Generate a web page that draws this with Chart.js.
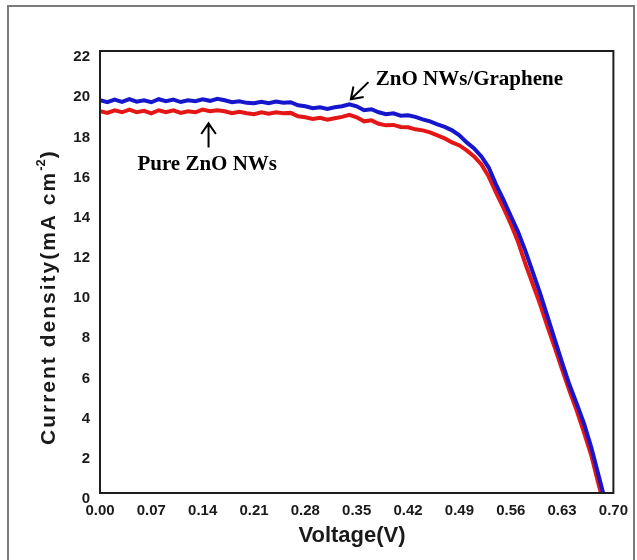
<!DOCTYPE html>
<html>
<head>
<meta charset="utf-8">
<script src="https://cdn.jsdelivr.net/npm/chart.js@4.4.1/dist/chart.umd.min.js"></script>
<style>
  html, body { margin: 0; padding: 0; background: #fff; }
  #wrap { position: relative; width: 637px; height: 560px; }
</style>
</head>
<body>
<div id="wrap"><canvas id="jvCanvas"></canvas></div>
<script>
// voltage (V) shared by both curves, 0.00 -> 0.68
const voltage = [
  0.00, 0.01, 0.02, 0.03, 0.04, 0.05, 0.06, 0.07, 0.08, 0.09,
  0.10, 0.11, 0.12, 0.13, 0.14, 0.15, 0.16, 0.17, 0.18, 0.19,
  0.20, 0.21, 0.22, 0.23, 0.24, 0.25, 0.26, 0.27, 0.28, 0.29,
  0.30, 0.31, 0.32, 0.33, 0.34, 0.35, 0.36, 0.37, 0.38, 0.39,
  0.40, 0.41, 0.42, 0.43, 0.44, 0.45, 0.46, 0.47, 0.48, 0.49,
  0.50, 0.51, 0.52, 0.53, 0.54, 0.55, 0.56, 0.57, 0.58, 0.59,
  0.60, 0.61, 0.62, 0.63, 0.64, 0.65, 0.66, 0.67, 0.68
];

// current density (mA cm-2), ZnO NWs/Graphene (blue)
const jGraphene = [
  19.55, 19.45, 19.58, 19.47, 19.60, 19.48, 19.55, 19.45, 19.60, 19.50,
  19.58, 19.46, 19.55, 19.50, 19.60, 19.52, 19.62, 19.55, 19.45, 19.50,
  19.42, 19.40, 19.47, 19.40, 19.48, 19.42, 19.45, 19.30, 19.25, 19.15,
  19.20, 19.12, 19.20, 19.25, 19.35, 19.25, 19.05, 19.10, 18.95, 18.85,
  18.90, 18.78, 18.80, 18.72, 18.60, 18.50, 18.35, 18.22, 18.05, 17.80,
  17.45, 17.15, 16.75, 16.20, 15.35, 14.60, 13.80, 13.00, 12.05, 11.00,
  9.95, 8.80, 7.65, 6.50, 5.40, 4.45, 3.45, 2.25, 0.85
];
const vocGraphene = 0.686;

// current density (mA cm-2), pure ZnO NWs (red)
const jPure = [
  19.00, 18.92, 19.05, 18.95, 19.08, 18.95, 19.02, 18.90, 19.05, 18.95,
  19.05, 18.92, 19.00, 18.95, 19.08, 19.00, 19.05, 19.00, 18.90, 18.97,
  18.90, 18.85, 18.95, 18.88, 18.95, 18.90, 18.92, 18.75, 18.70, 18.62,
  18.68, 18.58, 18.65, 18.72, 18.82, 18.70, 18.50, 18.55, 18.38, 18.30,
  18.32, 18.22, 18.20, 18.10, 18.05, 17.95, 17.80, 17.65, 17.45, 17.30,
  17.05, 16.75, 16.35, 15.75, 14.95, 14.20, 13.40, 12.50, 11.40, 10.40,
  9.40, 8.30, 7.25, 6.15, 5.10, 4.10, 3.00, 1.85, 0.40
];
const vocPure = 0.683;

const xTicks = [0.00, 0.07, 0.14, 0.21, 0.28, 0.35, 0.42, 0.49, 0.56, 0.63, 0.70];
const yTicks = [0, 2, 4, 6, 8, 10, 12, 14, 16, 18, 20, 22];

function toPoints(vs, js, voc) {
  const pts = vs.map((v, i) => ({ x: v, y: js[i] }));
  pts.push({ x: voc, y: 0 });
  return pts;
}

const sansBold = 'bold 15px "Liberation Sans", Arial, sans-serif';

// frame, arrows, labels and axis titles
const decorPlugin = {
  id: 'decor',
  beforeDraw(chart) {
    const ctx = chart.ctx;
    ctx.save();
    ctx.strokeStyle = '#7a7a7a';
    ctx.lineWidth = 2;
    ctx.strokeRect(8, 6, 626, 570);
    ctx.restore();
  },
  afterDraw(chart) {
    const ctx = chart.ctx;
    const a = chart.chartArea;
    const xs = chart.scales.x, ys = chart.scales.y;
    ctx.save();

    // plot frame
    ctx.strokeStyle = '#1e1e1e';
    ctx.lineWidth = 2;
    ctx.strokeRect(a.left, a.top, a.right - a.left, a.bottom - a.top);

    // annotations
    ctx.fillStyle = '#000';
    ctx.strokeStyle = '#000';
    ctx.font = 'bold 21px "Liberation Serif", "Times New Roman", serif';
    ctx.textBaseline = 'alphabetic';
    ctx.textAlign = 'left';
    ctx.fillText('ZnO NWs/Graphene', xs.getPixelForValue(0.376), ys.getPixelForValue(20.3));
    ctx.fillText('Pure ZnO NWs', xs.getPixelForValue(0.051), ys.getPixelForValue(16.08));

    const arrow = (x1, y1, x2, y2) => {
      const ang = Math.atan2(y2 - y1, x2 - x1);
      const L = 13, s = 0.6;
      ctx.lineWidth = 2;
      ctx.beginPath();
      ctx.moveTo(x1, y1);
      ctx.lineTo(x2, y2);
      ctx.moveTo(x2 - L * Math.cos(ang - s), y2 - L * Math.sin(ang - s));
      ctx.lineTo(x2, y2);
      ctx.lineTo(x2 - L * Math.cos(ang + s), y2 - L * Math.sin(ang + s));
      ctx.stroke();
    };
    arrow(xs.getPixelForValue(0.366), ys.getPixelForValue(20.45),
          xs.getPixelForValue(0.342), ys.getPixelForValue(19.6));
    arrow(xs.getPixelForValue(0.148), ys.getPixelForValue(17.2),
          xs.getPixelForValue(0.148), ys.getPixelForValue(18.4));

    // axis titles
    ctx.fillStyle = '#1a1a1a';
    ctx.font = 'bold 22px "Liberation Sans", Arial, sans-serif';
    ctx.textAlign = 'center';
    ctx.fillText('Voltage(V)', 352, 542);

    ctx.translate(55, 445);
    ctx.rotate(-Math.PI / 2);
    ctx.textAlign = 'left';
    ctx.font = 'bold 21px "Liberation Sans", Arial, sans-serif';
    ctx.letterSpacing = '2px';
    const main = 'Current density(mA cm';
    ctx.fillText(main, 0, 0);
    let w = ctx.measureText(main).width;
    ctx.font = 'bold 13px "Liberation Sans", Arial, sans-serif';
    ctx.letterSpacing = '0px';
    ctx.fillText('-2', w, -10);
    w += ctx.measureText('-2').width + 1;
    ctx.font = 'bold 21px "Liberation Sans", Arial, sans-serif';
    ctx.fillText(')', w, 0);
    ctx.restore();
  }
};

const ctx = document.getElementById('jvCanvas').getContext('2d');
new Chart(ctx, {
  type: 'line',
  data: {
    datasets: [
      {
        label: 'ZnO NWs/Graphene',
        data: toPoints(voltage, jGraphene, vocGraphene),
        borderColor: 'rgb(22, 22, 205)',
        borderWidth: 4,
        pointRadius: 0,
        tension: 0
      },
      {
        label: 'Pure ZnO NWs',
        data: toPoints(voltage, jPure, vocPure),
        borderColor: 'rgb(228, 22, 22)',
        borderWidth: 4,
        pointRadius: 0,
        tension: 0
      }
    ]
  },
  options: {
    responsive: true,
    maintainAspectRatio: false,
    animation: false,
    layout: { padding: { top: 51, right: 21, bottom: 0, left: 0 } },
    plugins: { legend: { display: false }, tooltip: { enabled: false } },
    scales: {
      x: {
        type: 'linear',
        min: 0,
        max: 0.70,
        grid: { display: false, drawTicks: false },
        border: { display: false },
        afterBuildTicks: s => { s.ticks = xTicks.map(v => ({ value: v })); },
        afterFit: s => { s.height = 67; },
        ticks: {
          color: '#1a1a1a',
          font: { family: '"Liberation Sans", Arial, sans-serif', size: 15, weight: 'bold' },
          padding: 9,
          maxRotation: 0,
          autoSkip: false,
          callback: v => Number(v).toFixed(2)
        }
      },
      y: {
        min: 0,
        max: 22,
        grid: { display: false, drawTicks: false },
        border: { display: false },
        afterBuildTicks: s => { s.ticks = yTicks.map(v => ({ value: v })); },
        afterFit: s => { s.width = 100; },
        ticks: {
          color: '#1a1a1a',
          font: { family: '"Liberation Sans", Arial, sans-serif', size: 15, weight: 'bold' },
          padding: 10,
          labelOffset: 6,
          autoSkip: false
        }
      }
    }
  },
  plugins: [decorPlugin]
});
</script>
</body>
</html>
